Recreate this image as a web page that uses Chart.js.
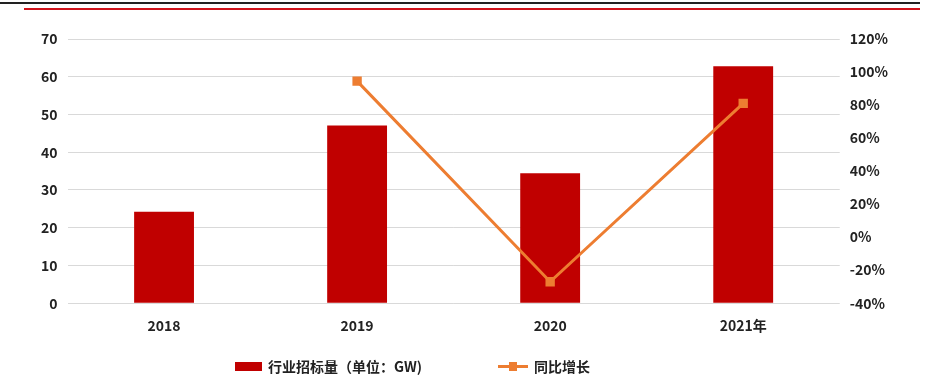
<!DOCTYPE html>
<html><head><meta charset="utf-8">
<script src="https://cdn.jsdelivr.net/npm/chart.js@4"></script>
<style>
html,body{margin:0;padding:0;background:#fff;}
#wrap{position:relative;width:936px;height:386px;overflow:hidden;}
#c{position:absolute;left:0;top:0;}
.topblack{position:absolute;left:0;top:2px;width:920px;height:2px;background:#222;}
.topred{position:absolute;left:24px;top:8px;width:896px;height:2px;background:#d0141c;}
#legend{position:absolute;top:354px;left:0;width:936px;height:24px;font-family:"Noto Sans CJK SC",sans-serif;font-weight:bold;font-size:14px;color:#222;}
.li{position:absolute;top:0;display:flex;align-items:center;height:24px;}
.box{width:27px;height:9px;background:#c00000;margin-right:6px;}
.ln{position:relative;width:30px;height:3px;background:#ed7d31;margin-right:6px;}
.ln i{position:absolute;left:11px;top:-3px;width:8px;height:9px;background:#ed7d31;}
</style></head>
<body>
<div id="wrap">
<canvas id="c" width="936" height="386"></canvas>
<div class="topblack"></div><div class="topred"></div>
<div id="legend">
 <div class="li" style="left:235px"><span class="box"></span><span>行业招标量（单位：GW)</span></div>
 <div class="li" style="left:498px"><span class="ln"><i></i></span><span>同比增长</span></div>
</div>
</div>
<script>
const categories = ['2018','2019','2020','2021年'];
const bidVolume = [24.2, 47.1, 34.4, 62.8];
const yoyGrowth = [null, 94.5, -27, 81];
const leftTicks = {min:0, max:70, step:10};
const rightTicks = {min:-40, max:120, step:20};

const tickFont = {family:'"Noto Sans CJK SC", sans-serif', weight:'bold', size:14};
new Chart(document.getElementById('c'), {
  data:{
    labels:categories,
    datasets:[
      {type:'line', label:'同比增长', data:yoyGrowth, yAxisID:'y1', borderColor:'#ed7d31', backgroundColor:'#ed7d31', borderWidth:3, pointStyle:'rect', pointRadius:4.5, pointHoverRadius:4.5, tension:0, spanGaps:false, order:0},
      {type:'bar', label:'行业招标量（单位：GW)', data:bidVolume, yAxisID:'y', backgroundColor:'#c00000', categoryPercentage:1, barPercentage:0.31, order:1}
    ]
  },
  options:{
    responsive:false, animation:false,
    layout:{padding:{left:31, right:38, top:39, bottom:46}},
    plugins:{legend:{display:false}, tooltip:{enabled:false}},
    scales:{
      x:{offset:true, grid:{display:false}, border:{display:false}, ticks:{color:'#222', font:tickFont, padding:6}},
      y:{position:'left', min:leftTicks.min, max:leftTicks.max, ticks:{stepSize:leftTicks.step, color:'#222', font:tickFont, padding:10}, grid:{color:'#d9d9d9', lineWidth:1, drawTicks:false}, border:{display:false}},
      y1:{position:'right', min:rightTicks.min, max:rightTicks.max, ticks:{stepSize:rightTicks.step, color:'#222', font:tickFont, padding:10, callback:v=>v+'%'}, grid:{display:false, drawTicks:false}, border:{display:false}}
    }
  }
});
</script>
</body></html>
